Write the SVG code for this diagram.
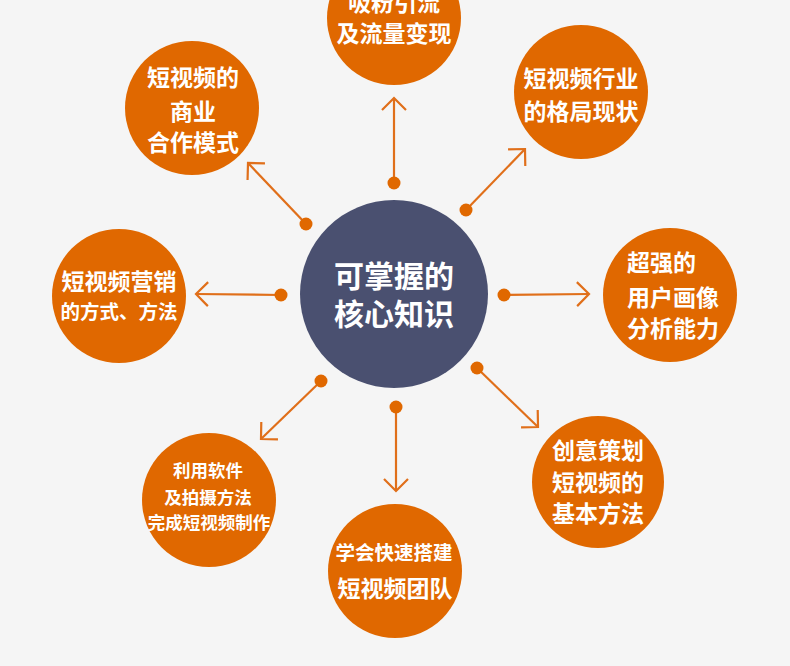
<svg xmlns="http://www.w3.org/2000/svg" width="790" height="666" viewBox="0 0 790 666">
<style>
.node{fill:#e06800;}
.core{fill:#4a5070;}
.t{font-family:"Noto Sans CJK SC","Noto Sans",sans-serif;font-weight:bold;fill:#ffffff;text-anchor:middle;}
.s{text-anchor:start;}
.conn line{stroke:#e06f1a;stroke-width:2.2;fill:none;}
.conn circle{fill:#e06800;}
</style>
<defs>
<marker id="ah" markerUnits="userSpaceOnUse" viewBox="-14 -14 16 28" refX="0" refY="0" markerWidth="16" markerHeight="28" orient="auto">
<path d="M-12,-12 L0,0 L-12,12" fill="none" stroke="#e06f1a" stroke-width="2.2"/>
</marker>
</defs>
<rect width="790" height="666" fill="#f5f5f5"/>
<g id="connectors" class="conn">
<line x1="394" y1="183" x2="394" y2="98" marker-end="url(#ah)"/>
<circle cx="394" cy="183" r="6.5"/>
<line x1="466" y1="210" x2="525" y2="149" marker-end="url(#ah)"/>
<circle cx="466" cy="210" r="6.5"/>
<line x1="306" y1="224" x2="248" y2="163" marker-end="url(#ah)"/>
<circle cx="306" cy="224" r="6.5"/>
<line x1="281" y1="295" x2="196" y2="294" marker-end="url(#ah)"/>
<circle cx="281" cy="295" r="6.5"/>
<line x1="504" y1="295" x2="589" y2="294" marker-end="url(#ah)"/>
<circle cx="504" cy="295" r="6.5"/>
<line x1="321" y1="381" x2="261" y2="439" marker-end="url(#ah)"/>
<circle cx="321" cy="381" r="6.5"/>
<line x1="396" y1="407" x2="396" y2="491" marker-end="url(#ah)"/>
<circle cx="396" cy="407" r="6.5"/>
<line x1="477" y1="368" x2="538" y2="427" marker-end="url(#ah)"/>
<circle cx="477" cy="368" r="6.5"/>
</g>
<g id="core">
<circle class="core" cx="394" cy="294" r="94"/>
<text class="t" x="394" y="287" font-size="30">可掌握的</text>
<text class="t" x="394" y="325" font-size="30">核心知识</text>
</g>
<g id="n-top">
<circle class="node" cx="394" cy="18" r="67"/>
<text class="t" x="394" y="11" font-size="23">吸粉引流</text>
<text class="t" x="394" y="42" font-size="23">及流量变现</text>
</g>
<g id="n-topleft">
<circle class="node" cx="192" cy="108" r="67"/>
<text class="t" x="193" y="86" font-size="23">短视频的</text>
<text class="t" x="193" y="120" font-size="23">商业</text>
<text class="t" x="193" y="151" font-size="23">合作模式</text>
</g>
<g id="n-topright">
<circle class="node" cx="581" cy="92" r="67"/>
<text class="t" x="581" y="87" font-size="23">短视频行业</text>
<text class="t" x="581" y="120" font-size="23">的格局现状</text>
</g>
<g id="n-left">
<circle class="node" cx="119" cy="296" r="67"/>
<text class="t" x="119" y="290" font-size="23">短视频营销</text>
<text class="t" x="119" y="319" font-size="19.5">的方式、方法</text>
</g>
<g id="n-right">
<circle class="node" cx="670" cy="295" r="67"/>
<text class="t s" x="627" y="271" font-size="23">超强的</text>
<text class="t s" x="627" y="306" font-size="23">用户画像</text>
<text class="t s" x="627" y="337" font-size="23">分析能力</text>
</g>
<g id="n-bottomleft">
<circle class="node" cx="209" cy="500" r="67"/>
<text class="t" x="208" y="477" font-size="17.5">利用软件</text>
<text class="t" x="208" y="504" font-size="17.5">及拍摄方法</text>
<text class="t" x="209" y="529" font-size="17.5">完成短视频制作</text>
</g>
<g id="n-bottomright">
<circle class="node" cx="598" cy="482" r="66"/>
<text class="t" x="598" y="459" font-size="23">创意策划</text>
<text class="t" x="598" y="491" font-size="23">短视频的</text>
<text class="t" x="598" y="522" font-size="23">基本方法</text>
</g>
<g id="n-bottom">
<circle class="node" cx="395" cy="571" r="67"/>
<text class="t" x="394" y="560" font-size="19.5">学会快速搭建</text>
<text class="t" x="395" y="597" font-size="23">短视频团队</text>
</g>
</svg>
